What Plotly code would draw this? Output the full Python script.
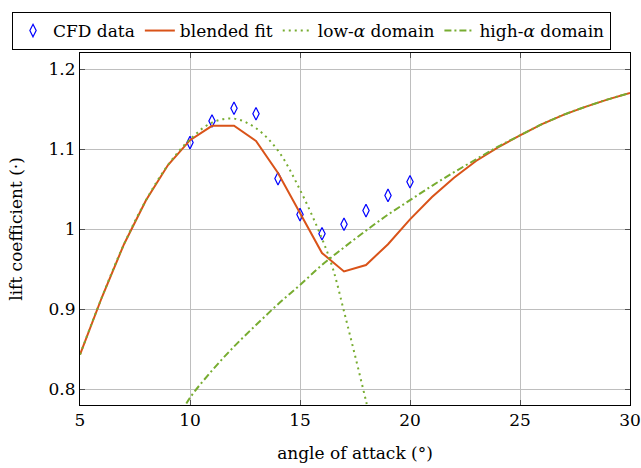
import plotly.graph_objects as go

# CFD data
cfd_alpha = [10, 11, 12, 13, 14, 15, 16, 17, 18, 19, 20]
cfd_cl = [1.108, 1.135, 1.151, 1.144, 1.063, 1.018, 0.994, 1.006, 1.023, 1.042, 1.059]

# blended fit
fit_alpha = [5, 6, 7, 8, 9, 10, 11, 12, 13, 14, 15, 16, 17, 18, 19, 20, 21, 22, 23, 24, 25, 26, 27, 28, 29, 30]
fit_cl = [0.843, 0.915, 0.981, 1.036, 1.080, 1.111, 1.129, 1.129, 1.110, 1.070, 1.020, 0.970, 0.947, 0.955, 0.981, 1.012,
          1.040, 1.064, 1.085, 1.102, 1.117, 1.131, 1.143, 1.153, 1.162, 1.170]

# low-alpha domain
low_alpha = [5, 6, 7, 8, 9, 10, 11, 12, 13, 14, 15, 16, 16.5, 17, 17.5, 18, 18.3]
low_cl = [0.843, 0.915, 0.981, 1.036, 1.080, 1.112, 1.133, 1.138, 1.126, 1.098, 1.049, 0.988, 0.950, 0.897, 0.842, 0.785, 0.75]

# high-alpha domain
high_alpha = [9.5, 10, 11, 12, 13, 14, 15, 16, 17, 18, 19, 20, 21, 22, 23, 24, 25, 26, 27, 28, 29, 30]
high_cl = [0.765, 0.789, 0.823, 0.853, 0.880, 0.906, 0.930, 0.955, 0.977, 0.998, 1.018, 1.036, 1.054, 1.071, 1.087,
           1.103, 1.117, 1.131, 1.143, 1.153, 1.162, 1.170]

ORANGE = "rgb(217,83,25)"
GREEN = "rgb(119,172,48)"
BLUE = "rgb(0,0,255)"
FONT = "DejaVu Serif"

fig = go.Figure()
fig.add_trace(go.Scatter(x=cfd_alpha, y=cfd_cl, mode="markers", name="CFD data",
                         marker=dict(symbol="diamond-tall-open", size=9, color=BLUE, line=dict(width=1.2, color=BLUE))))
fig.add_trace(go.Scatter(x=fit_alpha, y=fit_cl, mode="lines", name="blended fit",
                         line=dict(color=ORANGE, width=2)))
fig.add_trace(go.Scatter(x=low_alpha, y=low_cl, mode="lines", name="low-<i>α</i> domain",
                         line=dict(color=GREEN, width=2, dash="2px,4px", shape="spline")))
fig.add_trace(go.Scatter(x=high_alpha, y=high_cl, mode="lines", name="high-<i>α</i> domain",
                         line=dict(color=GREEN, width=2, dash="7px,3px,2px,3px", shape="spline")))

axis_common = dict(showgrid=True, gridcolor="rgb(190,190,190)", gridwidth=1,
                   showline=True, linecolor="black", linewidth=1, mirror="ticks",
                   ticks="inside", ticklen=5, tickcolor="rgb(80,80,80)", zeroline=False,
                   automargin=False,
                   tickfont=dict(family=FONT, size=17, color="black"))

fig.update_layout(
    width=641, height=468,
    margin=dict(l=80, r=11, t=53, b=63),
    plot_bgcolor="white", paper_bgcolor="white",
    font=dict(family=FONT, size=17, color="black"),
    xaxis=dict(range=[5, 30], tickvals=[5, 10, 15, 20, 25, 30],
               title=dict(text="angle of attack (°)", font=dict(family=FONT, size=17), standoff=17), **axis_common),
    yaxis=dict(range=[0.78, 1.22], tickvals=[0.8, 0.9, 1.0, 1.1, 1.2], ticktext=["0.8", "0.9", "1", "1.1", "1.2"],
               title=dict(text="lift coefficient (·)", font=dict(family=FONT, size=17), standoff=21), **axis_common),
    legend=dict(orientation="h", x=-0.1236, xanchor="left", y=1.1165, yanchor="top",
                bordercolor="black", borderwidth=1, bgcolor="white",
                font=dict(family=FONT, size=17), itemwidth=30, tracegroupgap=0),
    showlegend=True,
)

fig.write_html("out.html")
